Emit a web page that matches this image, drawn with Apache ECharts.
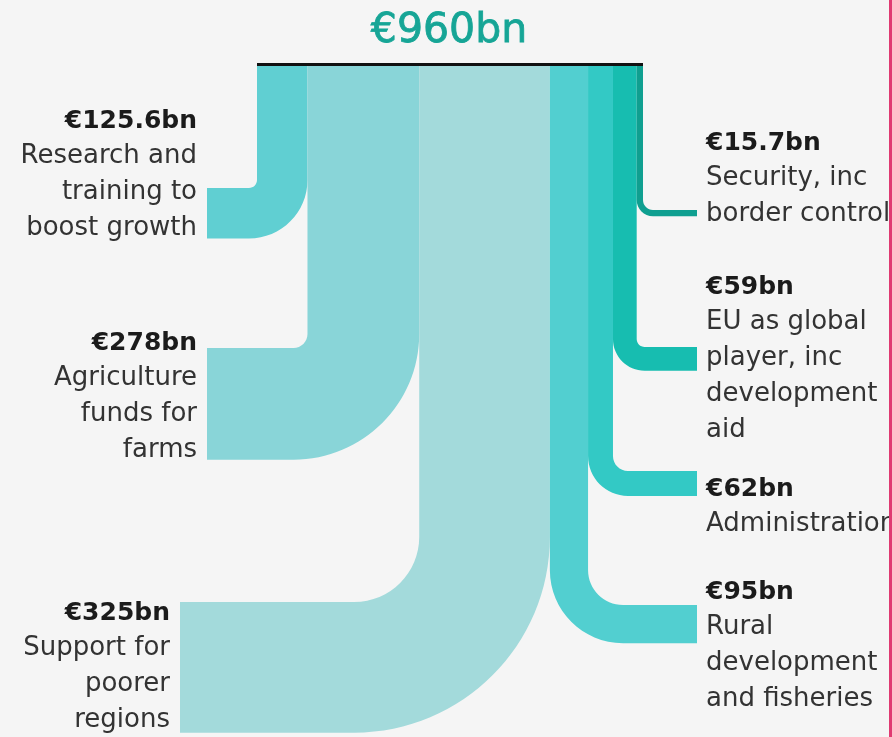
<!DOCTYPE html>
<html>
<head>
	<meta charset="utf-8">
	<title>EU budget €960bn</title>
	<script type="text/javascript" src="https://cdn.jsdelivr.net/npm/echarts@6/dist/echarts.min.js"></script>
	<style>
		html, body { margin: 0; padding: 0; background: #f5f5f5; }
		#chart { width: 892px; height: 737px; }
	</style>
</head>
<body>
	<div id="chart"></div>

	<script type="text/javascript">
		// columns in the order they sit under the top bar, left to right
		var names = ['Research', 'Agriculture', 'Poorer regions', 'Rural', 'Administration', 'EU global', 'Security'];
		var values = [125.6, 278, 325, 95, 62, 59, 15.7];
		var valueLabels = ['€125.6bn', '€278bn', '€325bn', '€95bn', '€62bn', '€59bn', '€15.7bn'];
		var labelLines = [
			['Research and', 'training to', 'boost growth'],
			['Agriculture', 'funds for', 'farms'],
			['Support for', 'poorer', 'regions'],
			['Rural', 'development', 'and fisheries'],
			['Administration'],
			['EU as global', 'player, inc', 'development', 'aid'],
			['Security, inc', 'border control']
		];
		var sides = ['left', 'left', 'left', 'right', 'right', 'right', 'right'];
		var totalLabel = '€960bn';

		// layout (pixels): where each band turns, where it stops, corner size, label top
		var turnY = [188, 348, 602, 605, 471, 347, 210];
		var stubEnd = [207, 207, 180, 697, 697, 697, 697];
		var innerR = [8, 14, 65, 35, 15, 8, 10];
		var labelY = [121, 343, 613, 592, 489, 287, 143];
		var colors = ['#60cfd2', '#89d5d8', '#a3dadb', '#52cfd0', '#33c9c5', '#17bdb0', '#0f9f90'];

		var FONT = 'DejaVu Sans';
		var BAND_TOP = 66;
		var LINE_H = 35.7;
		var K = 0.5523; // bezier quarter circle

		var total = 0;
		var bandData = [];
		for (var i = 0; i < values.length; i++) {
			bandData.push({ name: names[i], value: [total, values[i]] });
			total += values[i];
		}

		function bandPath(x0, x1, yT, r, xE, left) {
			var w = x1 - x0, yB = yT + w, R = r + w;
			var p;
			if (left) {
				p = ['M', x0, BAND_TOP, 'L', x1, BAND_TOP, 'L', x1, yB - R,
					'C', x1, yB - R + K * R, x1 - R + K * R, yB, x1 - R, yB,
					'L', xE, yB, 'L', xE, yT, 'L', x0 - r, yT,
					'C', x0 - r + K * r, yT, x0, yT - r + K * r, x0, yT - r, 'Z'];
			} else {
				p = ['M', x0, BAND_TOP, 'L', x1, BAND_TOP, 'L', x1, yT - r,
					'C', x1, yT - r + K * r, x1 + r - K * r, yT, x1 + r, yT,
					'L', xE, yT, 'L', xE, yB, 'L', x0 + R, yB,
					'C', x0 + R - K * R, yB, x0, yB - R + K * R, x0, yB - R, 'Z'];
			}
			return p.join(' ');
		}

		function renderBand(params, api) {
			var i = params.dataIndex;
			var start = api.value(0), val = api.value(1);
			var x0 = api.coord([start, 0])[0];
			var x1 = api.coord([start + val, 0])[0];
			var left = sides[i] === 'left';
			var children = [{
				type: 'path',
				shape: { pathData: bandPath(x0, x1, turnY[i], innerR[i], stubEnd[i], left) },
				style: { fill: colors[i] }
			}];
			var lines = [valueLabels[i]].concat(labelLines[i]);
			for (var k = 0; k < lines.length; k++) {
				children.push({
					type: 'text',
					x: left ? stubEnd[i] - 10 : stubEnd[i] + 9,
					y: labelY[i] + k * LINE_H,
					style: {
						text: lines[k],
						fontFamily: FONT,
						fontSize: k === 0 ? 25 : 26,
						fontWeight: k === 0 ? 'bold' : 'normal',
						fill: k === 0 ? '#1b1b1b' : '#333333',
						align: left ? 'right' : 'left',
						verticalAlign: 'middle'
					}
				});
			}
			return { type: 'group', children: children };
		}

		function renderTopBar(params, api) {
			var a = api.coord([api.value(0), 0]);
			var b = api.coord([api.value(1), 0]);
			return {
				type: 'line',
				shape: { x1: a[0], y1: BAND_TOP - 1.5, x2: b[0], y2: BAND_TOP - 1.5 },
				style: { stroke: '#111111', lineWidth: 3 }
			};
		}

		var chart = echarts.init(document.getElementById('chart'));
		var option = {
			backgroundColor: '#f5f5f5',
			animation: false,
			grid: { left: 257, right: 249, top: 0, bottom: 0 },
			xAxis: { type: 'value', min: 0, max: total, show: false },
			yAxis: { type: 'value', min: 0, max: 737, inverse: true, show: false },
			graphic: [
				{
					type: 'text', x: 449, y: 31,
					style: {
						text: totalLabel, fontFamily: FONT, fontSize: 41,
						fill: '#16a596', stroke: '#16a596', lineWidth: 0.8,
						align: 'center', verticalAlign: 'middle'
					}
				},
				{
					type: 'rect', shape: { x: 889, y: 0, width: 3, height: 737 },
					style: { fill: '#e03a72' }, z: 100
				}
			],
			series: [
				{
					type: 'custom',
					name: 'budget',
					coordinateSystem: 'cartesian2d',
					renderItem: renderBand,
					data: bandData
				},
				{
					type: 'custom',
					name: 'total',
					coordinateSystem: 'cartesian2d',
					renderItem: renderTopBar,
					data: [[0, total]]
				}
			]
		};
		chart.setOption(option);
	</script>
</body>
</html>
